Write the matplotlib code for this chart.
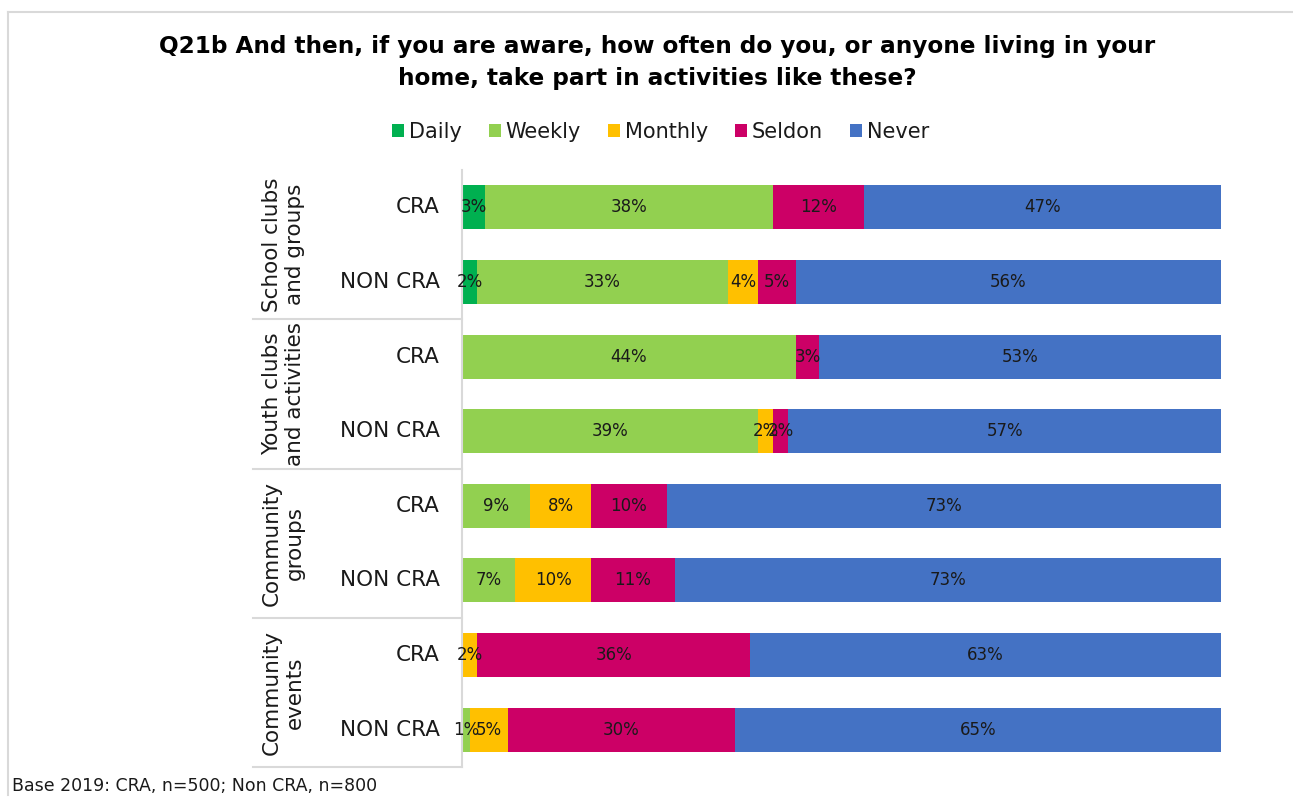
import matplotlib
matplotlib.use('Agg')
import matplotlib.pyplot as plt
from matplotlib.lines import Line2D
import numpy as np

plt.rcParams['font.family'] = ['DejaVu Sans']

# survey answers, one row per bar (top to bottom)
groups = ['School clubs\nand groups', 'Youth clubs\nand activities',
          'Community\ngroups', 'Community\nevents']
rows = ['CRA', 'NON CRA'] * 4
series = ['Daily', 'Weekly', 'Monthly', 'Seldon', 'Never']
daily = [3, 2, 0, 0, 0, 0, 0, 0]
weekly = [38, 33, 44, 39, 9, 7, 0, 1]
monthly = [0, 4, 0, 2, 8, 10, 2, 5]
seldon = [12, 5, 3, 2, 10, 11, 36, 30]
never = [47, 56, 53, 57, 73, 73, 63, 65]
colors = ['#00B050', '#92D050', '#FFC000', '#CC0066', '#4472C4']
txt = '#1a1a1a'

W, H = 1293, 801
fig = plt.figure(figsize=(W / 100, H / 100), dpi=100)
ax = fig.add_axes([462 / W, 1 - 767 / H, 759 / W, 597 / H])

y = np.arange(len(rows)) + 0.5
left = np.zeros(len(rows))
for name, vals, c in zip(series, [daily, weekly, monthly, seldon, never], colors):
    vals = np.array(vals, dtype=float)
    ax.barh(y, vals, left=left, height=0.59, color=c, label=name)
    for yi, l, v in zip(y, left, vals):
        if v > 0:
            ax.text(min(l + v / 2, (l + 100) / 2), yi, f'{v:.0f}%', ha='center', va='center',
                    fontsize=12, color=txt)
    left += vals

ax.set_xlim(0, 100)
ax.set_ylim(len(rows), 0)
ax.set_xticks([])
ax.set_yticks([])
for s in ['top', 'right', 'bottom']:
    ax.spines[s].set_visible(False)
ax.spines['left'].set_color('#d9d9d9')
ax.spines['left'].set_linewidth(1.5)

# row labels and group labels on the left
trans = ax.get_yaxis_transform()
for yi, r in zip(y, rows):
    ax.text(-0.029, yi, r, transform=trans, ha='right', va='center', fontsize=15.5, color=txt)
for gi, g in enumerate(groups):
    ax.text(-0.235, gi * 2 + 1, g, transform=trans, rotation=90, ha='center', va='center',
            fontsize=15.5, color=txt, multialignment='center', linespacing=1.2)
    ax.plot([-0.2754, 0], [gi * 2 + 2] * 2, transform=trans, color='#d9d9d9', lw=1.5,
            clip_on=False)

fig.text(0.508, 1 - 63 / H, 'Q21b And then, if you are aware, how often do you, or anyone living in your\nhome, take part in activities like these?',
         ha='center', va='center', fontsize=16.7, fontweight='bold', linespacing=1.5)

fig.legend(loc='center', bbox_to_anchor=(0.511, 1 - 132 / H), ncol=5, frameon=False,
           fontsize=15, handlelength=0.55, handleheight=0.55, handletextpad=0.25,
           columnspacing=1.3, labelcolor=txt)

fig.text(12 / W, 1 - 786 / H, 'Base 2019: CRA, n=500; Non CRA, n=800', ha='left', va='center',
         fontsize=12.5, color=txt)

# light frame on the top and left
x0, y0 = 8 / W, 1 - 12 / H
fig.add_artist(Line2D([x0, 1], [y0, y0], transform=fig.transFigure, color='#d9d9d9', lw=1.5))
fig.add_artist(Line2D([x0, x0], [y0, 1 - 795 / H], transform=fig.transFigure, color='#d9d9d9', lw=1.5))

fig.savefig('out.png', dpi=100)
